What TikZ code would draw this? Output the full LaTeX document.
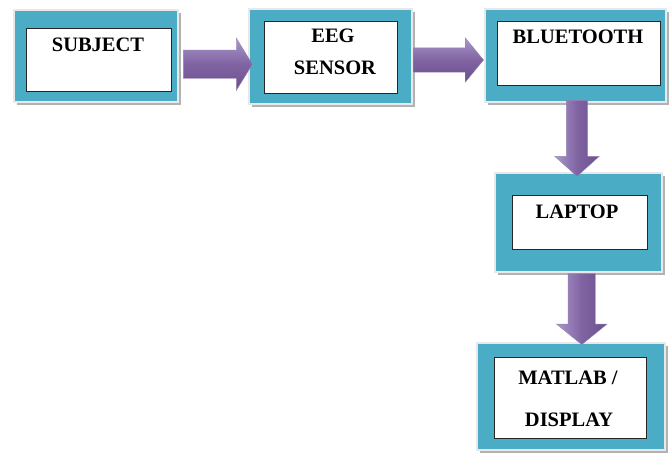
\documentclass[tikz,border=0pt]{standalone}
\usepackage{fontspec}
\setmainfont{Liberation Serif}
\usepackage{tikz}
\usetikzlibrary{shapes.arrows, shadows, calc}

\definecolor{boxteal}{HTML}{4BACC6}
\definecolor{arrowlight}{HTML}{AA96CC}
\definecolor{arrowmid}{HTML}{8064A2}
\definecolor{arrowdark}{HTML}{6B4F8E}

\begin{document}
\begin{tikzpicture} [x=1pt, y=-1pt,
    block/.style = {draw=black!9, line width=2.5pt, fill=boxteal, inner sep=0pt,
        drop shadow={shadow xshift=2.5pt, shadow yshift=-2.5pt, fill=black!30, opacity=1}},
    panel/.style = {draw=black!85, line width=0.8pt, fill=white, inner sep=0pt},
    txt/.style = {font=\fontsize{20.5}{24}\selectfont\bfseries, inner sep=0pt,
        text height=13.5pt, text depth=0pt},
    flow/.style = {single arrow, inner xsep=0pt, draw=arrowdark!70, line width=0.4pt,
        top color=arrowlight, bottom color=arrowdark, middle color=arrowmid},
    flowdown/.style = {flow, rotate=-90, left color=arrowlight, right color=arrowdark,
        middle color=arrowmid}]

        \fill [white] (0,0) rectangle (670,459);
        \useasboundingbox (0,0) rectangle (670,459);

        % outer blocks
        \node (subject) [block, minimum width=164, minimum height=92] at (96,56) {};
        \node (eeg) [block, minimum width=163, minimum height=95] at (330.5,56.5) {};
        \node (bluetooth) [block, minimum width=181, minimum height=93] at (575.5,55.5) {};
        \node (laptop) [block, minimum width=167, minimum height=99] at (578.5,222.5) {};
        \node (matlab) [block, minimum width=188, minimum height=107] at (571,396.5) {};

        % white panels
        \node (subjectin) [panel, minimum width=145, minimum height=63] at (98.5,59.5) {};
        \node (eegin) [panel, minimum width=133, minimum height=72] at (330.5,57) {};
        \node (bluetoothin) [panel, minimum width=163, minimum height=64] at (578.5,53) {};
        \node (laptopin) [panel, minimum width=135, minimum height=54] at (579.5,222) {};
        \node (matlabin) [panel, minimum width=152, minimum height=81] at (570,397.5) {};

        \node (subjecttxt) [txt] at (98,45) {SUBJECT};
        \node (eegtxt) [txt] at (333,36) {EEG}; \node (sensortxt) [txt] at (335,68) {SENSOR};
        \node (bluetoothtxt) [txt] at (578,37) {BLUETOOTH};
        \node (laptoptxt) [txt] at (577,212) {LAPTOP};
        \node (matlabtxt) [txt] at (568,378) {MATLAB /};
        \node (displaytxt) [txt] at (569,420) {DISPLAY};

        % block arrows
        \node (a1) [flow, minimum height=69, inner ysep=14pt, single arrow head extend=12,
            single arrow tip angle=117]
            at ($(subject.east)!.5!(eeg.west)+(0,8)$) {};
        \node (a2) [flow, minimum height=70, inner ysep=12pt, single arrow head extend=10,
            single arrow tip angle=101]
            at ($(eeg.east)!.5!(bluetooth.west)+(-5,4)$) {};
        \node (a3) [flowdown, minimum height=76, inner ysep=10.5pt, single arrow head extend=11.5,
            single arrow tip angle=96]
            at ($(bluetooth.south)!.5!(laptop.north)+(0,-4)$) {};
        \node (a4) [flowdown, minimum height=71, inner ysep=13.5pt, single arrow head extend=11.5,
            single arrow tip angle=102]
            at ($(laptop.south)!.5!(matlab.north)+(7,-4)$) {};

    \end{tikzpicture}
\end{document}
